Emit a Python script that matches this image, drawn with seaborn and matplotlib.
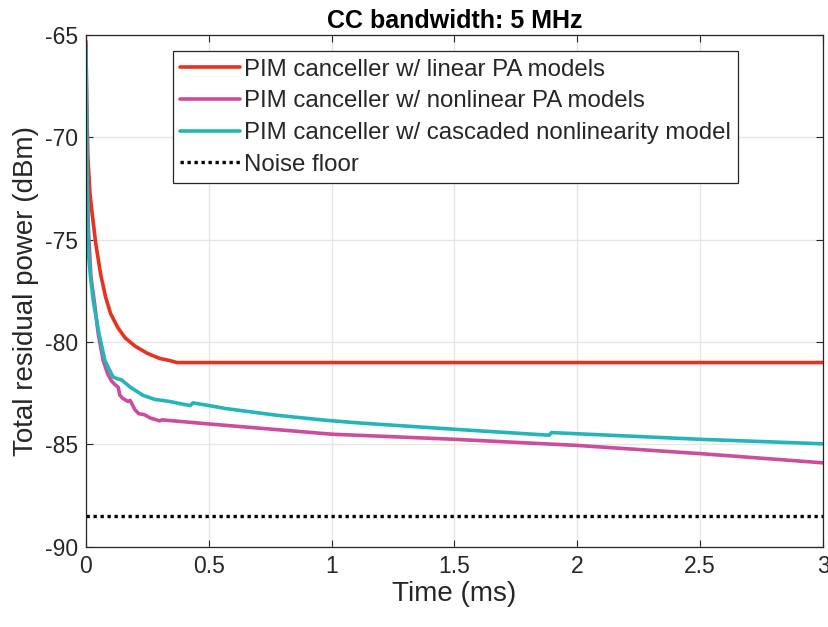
import matplotlib
matplotlib.use("Agg")
import matplotlib.pyplot as plt
import seaborn as sns
import pandas as pd

# ---- data ----
red_t = [0, 0.003, 0.008, 0.016, 0.023, 0.04, 0.06, 0.08, 0.10, 0.13, 0.16, 0.20, 0.25, 0.30, 0.34, 0.37, 3.0]
red_v = [-65.5, -68.5, -71.0, -72.7, -73.5, -75.2, -76.7, -77.8, -78.6, -79.3, -79.8, -80.2, -80.55, -80.8, -80.9, -81.0, -81.0]

mag_t = [0, 0.002, 0.005, 0.01, 0.02, 0.036, 0.05, 0.07, 0.09, 0.104, 0.12, 0.131, 0.138, 0.15,
         0.171, 0.18, 0.199, 0.215, 0.239, 0.26, 0.30, 0.31, 0.5, 1.0, 1.5, 2.0, 2.5, 3.0]
mag_v = [-65.3, -68.0, -71.5, -74.5, -76.8, -78.2, -79.6, -80.9, -81.6, -81.9, -82.1, -82.2, -82.6, -82.75,
         -82.9, -82.85, -83.3, -83.5, -83.55, -83.7, -83.85, -83.8, -84.0, -84.5, -84.75, -85.05, -85.45, -85.9]

teal_t = [0, 0.002, 0.005, 0.009, 0.02, 0.03, 0.05, 0.077, 0.11, 0.13, 0.145, 0.18, 0.232, 0.28, 0.34,
          0.40, 0.425, 0.435, 0.5, 0.57, 0.773, 0.976, 1.11, 1.5, 1.885, 1.895, 2.0, 2.5, 3.0]
teal_v = [-65.6, -68.5, -72.0, -75.5, -77.0, -78.0, -79.4, -80.9, -81.7, -81.8, -81.85, -82.2, -82.6, -82.8, -82.9,
          -83.05, -83.1, -82.97, -83.1, -83.25, -83.57, -83.82, -83.95, -84.26, -84.55, -84.42, -84.48, -84.75, -84.97]

noise_t = [0, 3.0]
noise_v = [-88.5, -88.5]

labels = ["PIM canceller w/ linear PA models",
          "PIM canceller w/ nonlinear PA models",
          "PIM canceller w/ cascaded nonlinearity model",
          "Noise floor"]
x_ticks = [0, 0.5, 1, 1.5, 2, 2.5, 3]
x_tick_labels = ["0", "0.5", "1", "1.5", "2", "2.5", "3"]
y_ticks = [-90, -85, -80, -75, -70, -65]
y_tick_labels = ["-90", "-85", "-80", "-75", "-70", "-65"]

colors = ["#E6321E", "#CC4C9E", "#22B5BA", "#000000"]

sns.set_theme(style="whitegrid")
plt.rcParams["font.family"] = ["Liberation Sans", "DejaVu Sans"]
plt.rcParams["axes.unicode_minus"] = False

fig = plt.figure(figsize=(8.29, 6.27), dpi=100)
ax = fig.add_axes([0.1037, 0.128, 0.8891, 0.816])

series = [(red_t, red_v), (mag_t, mag_v), (teal_t, teal_v)]
for (t, v), lab, c in zip(series, labels[:3], colors[:3]):
    df = pd.DataFrame({"t": t, "v": v})
    sns.lineplot(data=df, x="t", y="v", ax=ax, color=c, linewidth=2.6, label=lab,
                 estimator=None, sort=False)
dfn = pd.DataFrame({"t": noise_t, "v": noise_v})
sns.lineplot(data=dfn, x="t", y="v", ax=ax, color=colors[3], linewidth=2.4,
             linestyle=(0, (1, 1.1)), label=labels[3], estimator=None)

ax.set_xlim(0, 3)
ax.set_ylim(-90, -65)
ax.set_xticks(x_ticks)
ax.set_xticklabels(x_tick_labels)
ax.set_yticks(y_ticks)
ax.set_yticklabels(y_tick_labels)
ax.tick_params(axis="both", which="both", direction="in", length=5, width=0.8,
               labelsize=16.5, colors="#262626", top=True, right=True,
               bottom=True, left=True, pad=6)
for lab in ax.get_xticklabels() + ax.get_yticklabels():
    lab.set_color("#262626")
ax.grid(True, color="#e6e6e6", linewidth=1.0)
for s in ax.spines.values():
    s.set_color("#262626")
    s.set_linewidth(0.9)
ax.set_facecolor("white")

ax.set_xlabel("Time (ms)", fontsize=20, color="#262626", labelpad=2)
ax.set_ylabel("Total residual power (dBm)", fontsize=20, color="#262626", labelpad=4)
ax.set_title("CC bandwidth: 5 MHz", fontsize=18, fontweight="bold", color="black", pad=5)

leg = ax.legend(loc="upper left", bbox_to_anchor=(0.118, 0.968), fontsize=17.3,
                frameon=True, fancybox=False, edgecolor="#262626", framealpha=1,
                handlelength=2.5, handletextpad=0.15, labelspacing=0.4,
                borderpad=0.3, borderaxespad=0)
leg.get_frame().set_linewidth(0.9)

fig.savefig("out.png", dpi=100)
